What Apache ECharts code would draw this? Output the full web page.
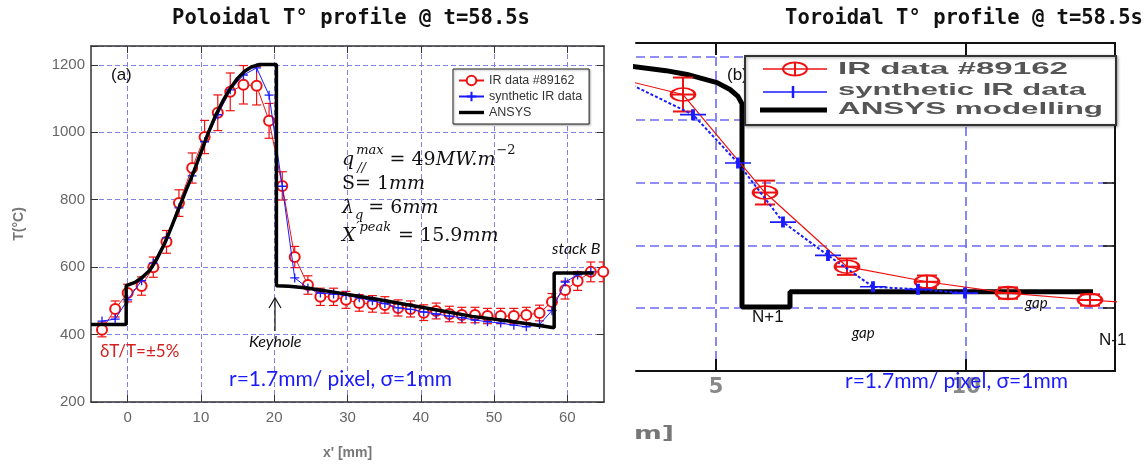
<!DOCTYPE html>
<html><head><meta charset="utf-8">
<script src="https://cdn.jsdelivr.net/npm/echarts@6.0.0/dist/echarts.min.js"></script>
<style>html,body{margin:0;padding:0;background:#fff}#c{width:1147px;height:466px}</style>
</head><body><div id="c"></div>
<script>
// ---------- Poloidal profile (panel a) ----------
const polX   = [-3.5,-1.7,0.0,1.9,3.5,5.3,7.0,8.8,10.5,12.3,14.0,15.8,17.6,19.3,21.1,22.8,24.6,26.3,28.1,29.8,31.6,33.4,35.1,36.9,38.6,40.4,42.1,43.9,45.6,47.4,49.1,50.9,52.7,54.4,56.2,57.9,59.7,61.4,63.2,64.9];
const polIR  = [414,476,523,544,600,675,790,894,986,1058,1120,1141,1138,1034,841,630,547,512,512,503,494,491,488,479,476,465,470,461,458,458,455,455,455,458,464,497,532,559,586,586];
const polSyn = [440,446,503,560,612,687,776,871,972,1052,1126,1170,1191,1110,840,568,538,523,520,516,509,500,492,479,475,467,461,455,450,443,438,434,428,423,430,471,556,577,586,null];
const polErrFrac = 0.05; // δT/T = ±5%
const polAnsysX = [-5,-0.2,-0.2,1,2,3,4,5,6,7,8,9,10,11,12,13,14,15,16,17,18,19,20.3,20.3,22,24.5,29,34,38,43,47,52,58.2,58.2,63.6];
const polAnsysT = [430,430,545,555,570,590,625,668,720,775,830,882,940,998,1050,1093,1130,1160,1182,1195,1201,1201,1201,545,543,538,523,505,489,470,454,440,420,583,583];
const polXTicks = [0,10,20,30,40,50,60];

// ---------- Toroidal profile (panel b) ----------
const torIRX   = [2.7,4.34,5.98,7.62,9.22,10.84,12.48,14.1];
const torIR    = [772,740,584,466,442,424,413,404];
const torIRErr = [27,27,19,13,10,9,9,9];
const torSynX  = [2.7,4.54,5.44,6.34,7.24,8.14,9.04,9.98];
const torSyn   = [779,708,631,537,484,434,430,424];
const torAnsysX = [3.2,4.0,4.42,5.02,5.28,5.44,5.52,5.52,6.48,6.48,12.54];
const torAnsysT = [786,778,772,759,748,737,725,402,402,426,426];
const torXTicks = [5,10];

const zip = (a,b) => a.map((v,i)=>[v,b[i]]);

const RED='#ee1111', BLUE='#1a1aff';
const gridL = '#8282e6', gridR = '#6b6bf2';
const axisCol = '#333';
const tickLabCol = '#666';

const mctx = document.createElement('canvas').getContext('2d');
function textW(str, font){ mctx.font = font; return mctx.measureText(str).width; }
function T(str, x, y, font, fill, extra, align){
  const a = align || 'left';
  return Object.assign({type:'text', x, y, z:100,
    style:{text:str, font, fill, align:a, textAlign:a, verticalAlign:'middle', textVerticalAlign:'middle'}}, extra||{});
}
function TS(str, x, y, font, fill, targetW){
  const w = textW(str, font);
  return T(str, x, y, font, fill, {scaleX: targetW / w});
}

const chart = echarts.init(document.getElementById('c'), null, {renderer:'canvas'});

const crossL = 'path://M5,0L5,10M0,5L10,5';
const crossR = 'path://M0,5L26,5M13,0L13,10';
const ellipseR = 'path://M0,6A12,6 0 1,0 24,6A12,6 0 1,0 0,6Z';
const thickLineIcon = 'path://M0,0M0,12M0,4.3H25V7.7H0Z';

function errBarL(params, api){
  const x = api.value(0), y = api.value(1), e = api.value(2);
  const lo = api.coord([x, y - e]), hi = api.coord([x, y + e]);
  const w = 4.5, st = {stroke: RED, lineWidth: 1.2};
  return {type:'group', children:[
    {type:'line', shape:{x1:lo[0], y1:lo[1], x2:hi[0], y2:hi[1]}, style:st},
    {type:'line', shape:{x1:lo[0]-w, y1:lo[1], x2:lo[0]+w, y2:lo[1]}, style:st},
    {type:'line', shape:{x1:hi[0]-w, y1:hi[1], x2:hi[0]+w, y2:hi[1]}, style:st}
  ]};
}
function errBarR(params, api){
  const x = api.value(0), y = api.value(1), e = api.value(2);
  const c = api.coord([x, y]);
  const lo = api.coord([x, y - e]), hi = api.coord([x, y + e]);
  const w = 10, st = {stroke: RED, lineWidth: 2};
  return {type:'group', children:[
    {type:'line', shape:{x1:lo[0], y1:lo[1], x2:hi[0], y2:hi[1]}, style:st},
    {type:'line', shape:{x1:lo[0]-w, y1:lo[1], x2:lo[0]+w, y2:lo[1]}, style:st},
    {type:'line', shape:{x1:hi[0]-w, y1:hi[1], x2:hi[0]+w, y2:hi[1]}, style:st},
    {type:'line', shape:{x1:c[0]-11, y1:c[1], x2:c[0]+11, y2:c[1]}, style:st}
  ]};
}

// ellipse outline for the right legend icon
const ellPts = [];
for (let k=0;k<=32;k++){ const a=k/32*2*Math.PI; ellPts.push([795+12*Math.cos(a), 69+6.5*Math.sin(a)]); }

// ---- formula block (panel a) ----
const MF = '"DejaVu Serif"';
const itB = 'italic 19px '+MF, upB = '19px '+MF, itS = 'italic 13px '+MF, upS = '13px '+MF;
const ink = '#111';
const formula = [];
(function(){
  const x0 = 342;
  // line 1: q_{//}^{max} = 49 MW.m^{-2}
  let y = 160, x = x0;
  formula.push(T('q', x, y, itB, ink)); x += textW('q', itB) + 2;
  formula.push(T('max', x, y - 9, itS, ink));
  formula.push(T('//', x + 1, y + 9, itS, ink));
  x += textW('max', itS) + 6;
  formula.push(T('= 49', x, y, upB, ink)); x += textW('= 49', upB);
  formula.push(T('MW.m', x, y, itB, ink)); x += textW('MW.m', itB) + 1;
  formula.push(T('−2', x, y - 9, upS, ink));
  // line 2: S= 1mm
  y = 184; x = x0;
  formula.push(T('S= 1', x, y, upB, ink)); x += textW('S= 1', upB);
  formula.push(T('mm', x, y, itB, ink));
  // line 3: λ_q = 6mm
  y = 208; x = x0;
  formula.push(T('λ', x, y, itB, ink)); x += textW('λ', itB) + 1;
  formula.push(T('q', x, y + 8, itS, ink)); x += textW('q', itS) + 5;
  formula.push(T('= 6', x, y, upB, ink)); x += textW('= 6', upB);
  formula.push(T('mm', x, y, itB, ink));
  // line 4: X'^{peak} = 15.9mm
  y = 236; x = x0;
  formula.push(T('X', x, y, itB, ink)); x += textW('X', itB) + 1;
  formula.push(T('′peak', x, y - 8, itS, ink)); x += textW('′peak', itS) + 7;
  formula.push(T('= 15.9', x, y, upB, ink)); x += textW('= 15.9', upB);
  formula.push(T('mm', x, y, itB, ink));
})();

const titleFont = 'bold 20.5px "DejaVu Sans Mono"';
const graphics = [
  T('Poloidal T° profile @ t=58.5s', 351, 19, titleFont, '#111', null, 'center'),
  T('Toroidal T° profile @ t=58.5s', 964, 19, titleFont, '#111', null, 'center'),
  // panel a annotations
  T('(a)', 111, 75, '17px "Liberation Sans"', '#111'),
  ...formula,
  T('stack B', 552, 249, 'italic 16px Lato', '#111'),
  T('Keyhole', 249, 342, 'italic 16px Lato', '#111'),
  {type:'polyline', z:100, shape:{points:[[275,331],[275,298]]}, style:{stroke:'#111', lineWidth:1.2, fill:null}},
  {type:'polyline', z:100, shape:{points:[[269,308],[275,298],[281,308]]}, style:{stroke:'#111', lineWidth:1.2, fill:null}},
  T('δT/T=±5%', 100, 352, '17px Lato', '#d42020'),
  T('r=1.7mm/ pixel, σ=1mm', 229, 379, '21px Lato', BLUE),
  // panel b annotations
  T('(b)', 727, 75, '17px "Liberation Sans"', '#111'),
  T('N+1', 752, 317, '17px "Liberation Sans"', '#111'),
  T('gap', 852, 333, 'italic 15px Lato', '#111'),
  T('gap', 1025, 303, 'italic 15px Lato', '#111'),
  T('N-1', 1099, 340, '17px "Liberation Sans"', '#111'),
  T('r=1.7mm/ pixel, σ=1mm', 845, 381, '21px Lato', BLUE, {z:110}),
  TS('m]', 634, 435, 'bold 17px "DejaVu Sans"', '#777', 40),
  // panel b legend
  {type:'rect', z:105, shape:{x:745, y:56, width:371, height:69}, style:{fill:'#fff', stroke:'#333', lineWidth:2, shadowBlur:3, shadowColor:'rgba(0,0,0,0.35)', shadowOffsetX:1, shadowOffsetY:1}},
  {type:'line', z:106, shape:{x1:763,y1:69,x2:827,y2:69}, style:{stroke:RED, lineWidth:1.5}},
  {type:'polyline', z:106, shape:{points:ellPts}, style:{stroke:RED, lineWidth:2, fill:null}},
  {type:'line', z:106, shape:{x1:795,y1:62,x2:795,y2:76}, style:{stroke:RED, lineWidth:2}},
  {type:'line', z:106, shape:{x1:763,y1:92,x2:827,y2:92}, style:{stroke:BLUE, lineWidth:1.5}},
  {type:'line', z:106, shape:{x1:793,y1:86,x2:793,y2:98}, style:{stroke:BLUE, lineWidth:2.5}},
  {type:'line', z:106, shape:{x1:760,y1:110,x2:827,y2:110}, style:{stroke:'#000', lineWidth:5}},
  Object.assign(TS('IR data #89162', 838, 69, 'bold 17px "Liberation Sans"', '#555', 230), {z:107}),
  Object.assign(TS('synthetic IR data', 838, 90, 'bold 17px "Liberation Sans"', '#555', 248), {z:107}),
  Object.assign(TS('ANSYS modelling', 838, 109, 'bold 17px "Liberation Sans"', '#555', 265), {z:107})
];

const option = {
  animation:false,
  backgroundColor:'#fff',
  grid:[
    {left:91, top:46, right:543, bottom:64},
    {left:636, top:43, right:32, bottom:95}
  ],
  legend:[{
    data:['IR data #89162','synthetic IR data',{name:'ANSYS', icon:thickLineIcon}],
    orient:'vertical', left:453, top:69, padding:[5,7,5,5], itemGap:3,
    itemWidth:25, itemHeight:12,
    textStyle:{fontSize:12.5, color:'#333', fontFamily:'Liberation Sans'},
    borderColor:'#222', borderWidth:1, backgroundColor:'#fff',
    shadowBlur:2, shadowColor:'rgba(0,0,0,0.3)', shadowOffsetX:1, shadowOffsetY:1,
    selectedMode:false, z:20
  }],
  xAxis:[
    {gridIndex:0, type:'value', min:-5, max:65, position:'bottom',
     axisLine:{show:true, onZero:false, lineStyle:{color:axisCol, width:1.5}},
     axisTick:{show:true, inside:true, length:7, customValues:polXTicks, lineStyle:{color:axisCol}},
     axisLabel:{customValues:polXTicks, color:tickLabCol, fontSize:15, margin:8, fontFamily:'Liberation Sans'},
     splitLine:{show:true, lineStyle:{color:gridL, type:[5,3], width:1}},
     name:"x' [mm]", nameLocation:'middle', nameGap:44,
     nameTextStyle:{color:'#777', fontSize:14, fontWeight:'bold', fontFamily:'Liberation Sans'}},
    {gridIndex:0, type:'value', min:-5, max:65, position:'top',
     axisLine:{show:true, onZero:false, lineStyle:{color:axisCol, width:1.5}},
     axisTick:{show:true, inside:true, length:7, customValues:polXTicks, lineStyle:{color:axisCol}},
     axisLabel:{show:false}, splitLine:{show:false}},
    {gridIndex:1, type:'value', min:3.4, max:12.98, position:'bottom',
     axisLine:{show:true, onZero:false, lineStyle:{color:'#111', width:2}},
     axisTick:{show:true, inside:true, length:12, customValues:torXTicks, lineStyle:{color:'#111', width:2}},
     axisLabel:{customValues:torXTicks, color:'#888', fontSize:21, fontWeight:'bold', margin:6, fontFamily:'DejaVu Sans'},
     splitLine:{show:true, lineStyle:{color:gridR, type:[9,5], width:1.6}}},
    {gridIndex:1, type:'value', min:3.4, max:12.98, position:'top',
     axisLine:{show:true, onZero:false, lineStyle:{color:'#111', width:2}},
     axisTick:{show:true, inside:true, length:12, customValues:torXTicks, lineStyle:{color:'#111', width:2}},
     axisLabel:{show:false}, splitLine:{show:false}}
  ],
  yAxis:[
    {gridIndex:0, type:'value', min:200, max:1256, interval:200, position:'left',
     axisLine:{show:true, onZero:false, lineStyle:{color:axisCol, width:1.5}},
     axisTick:{show:true, inside:true, length:7, lineStyle:{color:axisCol}},
     axisLabel:{formatter:v => (v % 200 === 0 ? String(v) : ''), color:tickLabCol, fontSize:15, margin:6, fontFamily:'Liberation Sans'},
     splitLine:{show:true, lineStyle:{color:gridL, type:[5,3], width:1}},
     name:'T(°C)', nameLocation:'middle', nameGap:65, nameRotate:90,
     nameTextStyle:{color:'#777', fontSize:14, fontWeight:'bold', fontFamily:'Liberation Sans'}},
    {gridIndex:0, type:'value', min:200, max:1256, interval:200, position:'right',
     axisLine:{show:true, onZero:false, lineStyle:{color:axisCol, width:1.5}},
     axisTick:{show:true, inside:true, length:7, lineStyle:{color:axisCol}},
     axisLabel:{show:false}, splitLine:{show:false}},
    {gridIndex:1, type:'value', min:300, max:822, interval:100, position:'left',
     axisLine:{show:false}, axisTick:{show:false}, axisLabel:{show:false},
     splitLine:{show:true, lineStyle:{color:gridR, type:[9,5], width:1.6}}},
    {gridIndex:1, type:'value', min:300, max:822, interval:100, position:'right',
     axisLine:{show:true, onZero:false, lineStyle:{color:'#111', width:2}},
     axisTick:{show:true, inside:true, length:12, lineStyle:{color:'#111', width:1.5}},
     axisLabel:{show:false}, splitLine:{show:false}}
  ],
  series:[
    {name:'IR data #89162', type:'line', xAxisIndex:0, yAxisIndex:0, data:zip(polX, polIR),
     symbol:'emptyCircle', symbolSize:10, showAllSymbol:true, clip:true, z:3,
     itemStyle:{color:RED, borderColor:RED, borderWidth:1.3}, lineStyle:{color:RED, width:1}},
    {type:'custom', xAxisIndex:0, yAxisIndex:0, clip:true, z:3, silent:true,
     data:polX.map((x,i)=>[x, polIR[i], polIR[i]*polErrFrac]), renderItem:errBarL},
    {name:'synthetic IR data', type:'line', xAxisIndex:0, yAxisIndex:0, data:zip(polX, polSyn),
     symbol:crossL, symbolSize:9, showAllSymbol:true, clip:true, z:4, connectNulls:false,
     itemStyle:{color:BLUE, borderColor:BLUE, borderWidth:1.3}, lineStyle:{color:BLUE, width:1}},
    {name:'ANSYS', type:'line', xAxisIndex:0, yAxisIndex:0, data:zip(polAnsysX, polAnsysT),
     showSymbol:false, symbol:'none', clip:true, z:5,
     itemStyle:{color:'#000'}, lineStyle:{color:'#000', width:3.5}},

    {name:'ANSYS modelling', type:'line', xAxisIndex:2, yAxisIndex:2, data:zip(torAnsysX, torAnsysT),
     showSymbol:false, symbol:'none', clip:true, z:3,
     itemStyle:{color:'#000'}, lineStyle:{color:'#000', width:5}},
    {name:'IR data #89162 (toroidal)', type:'line', xAxisIndex:2, yAxisIndex:2, data:zip(torIRX, torIR),
     symbol:ellipseR, symbolSize:[24,13], showAllSymbol:true, clip:true, z:4,
     itemStyle:{color:'rgba(255,255,255,0)', borderColor:RED, borderWidth:2}, lineStyle:{color:RED, width:1.2}},
    {type:'custom', xAxisIndex:2, yAxisIndex:2, clip:true, z:4, silent:true,
     data:torIRX.map((x,i)=>[x, torIR[i], torIRErr[i]]), renderItem:errBarR},
    {name:'synthetic IR data (toroidal)', type:'line', xAxisIndex:2, yAxisIndex:2, data:zip(torSynX, torSyn),
     symbol:crossR, symbolSize:[26,11], showAllSymbol:true, clip:true, z:4,
     itemStyle:{color:BLUE, borderColor:BLUE, borderWidth:2.5}, lineStyle:{color:BLUE, width:2, type:[3,2]}}
  ],
  graphic:{elements:graphics}
};
chart.setOption(option);
</script></body></html>
